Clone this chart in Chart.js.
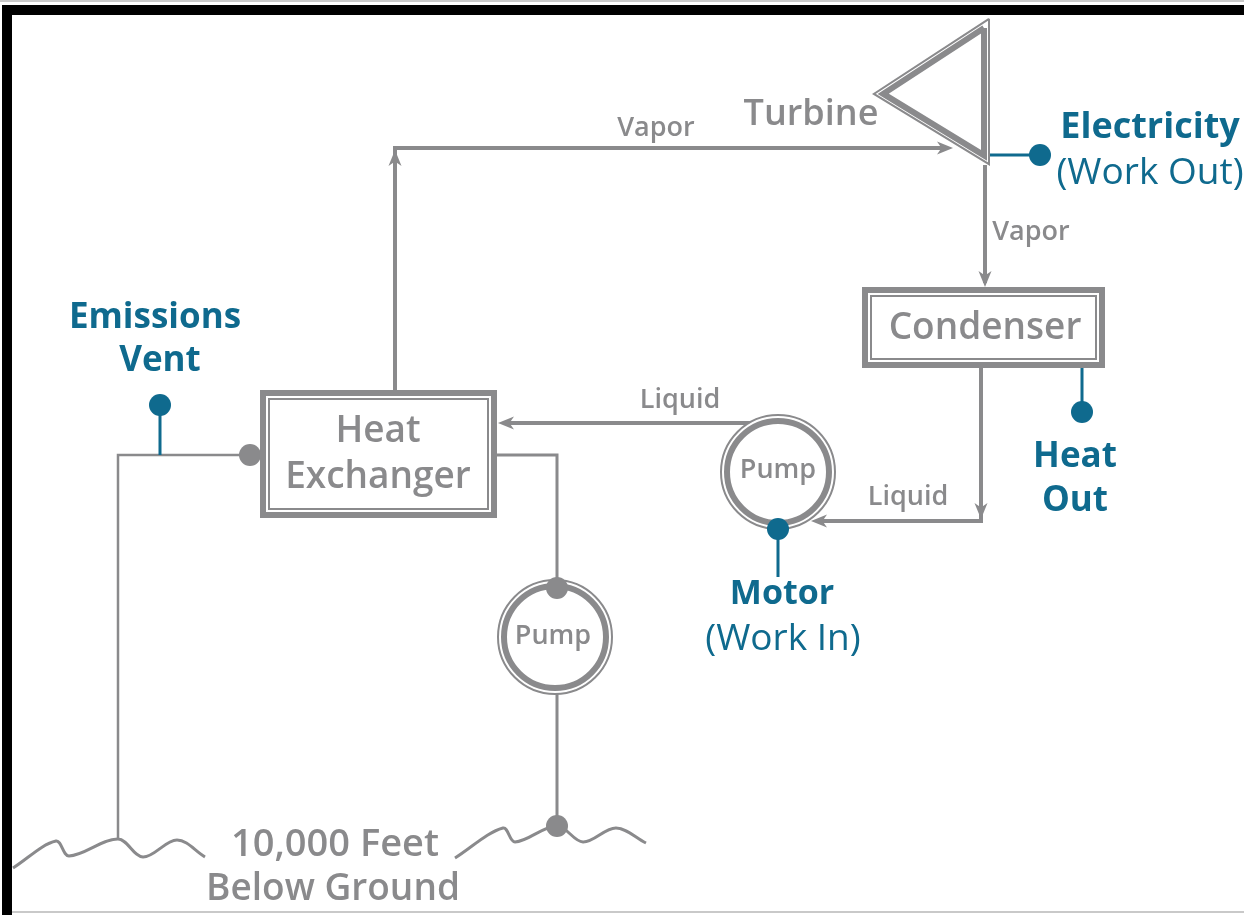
<!DOCTYPE html>
<html>
<head>
<meta charset="utf-8">
<script src="https://cdn.jsdelivr.net/npm/chart.js@4.4.1/dist/chart.umd.min.js"></script>
<style>
  html, body { margin: 0; padding: 0; background: #fff; }
  canvas { display: block; }
</style>
</head>
<body>
<canvas id="diagram" width="1244" height="915"></canvas>
<script>
const GRAY = "#8a8a8c";
const TEAL = "#0f6a8e";

// frame
const frameBlack = [[7, 915], [7, 10], [1244, 10]];
const frameTop = [[0, 1], [1244, 1]];
const frameBottom = [[12, 912], [1244, 912]];

// working fluid loop
const pipeVaporUp = [[395, 390], [395, 148], [948, 148]];
const pipeVaporDown = [[985, 165], [985, 283]];
const pipeLiquidDown = [[981, 368], [981, 521], [816, 521]];
const pipeLiquidBack = [[755, 423], [503, 423]];

// geothermal loop
const pipeGeoIn = [[497, 455], [557, 455], [557, 582]];
const pipeGeoDown = [[557, 692], [557, 826]];
const pipeGeoOut = [[118, 839], [118, 455], [255, 455]];

// ground
const groundLeft = [[13, 868], [56, 841], [69, 856], [118, 839], [143, 857], [177, 840], [205, 857]];
const groundRight = [[455, 858], [503, 828], [515, 842], [557, 826], [583, 842], [616, 828], [646, 843]];

// taps
const tapVent = [[160, 455], [160, 405]];
const tapElectric = [[990, 155], [1040, 155]];
const tapHeat = [[1082, 366], [1082, 412]];
const tapMotor = [[778, 530], [778, 577]];
const tealDots = [[160, 405], [1040, 155], [1082, 412], [778, 529]];
const grayDots = [[250, 455], [557, 588], [557, 826]];

// arrow tips: x, y, direction in degrees (0 = up)
const arrowTips = [[395, 150, 0], [953, 148, 90], [985, 287, 180], [981, 519, 180], [811, 521, 270], [498, 423, 270]];

// equipment
const boxHeatEx = [260, 390, 497, 518];
const boxCondenser = [862, 287, 1105, 368];
const turbine = [[990, 17], [990, 166], [872, 94]];
const pumps = [[778, 472], [555, 637]];

const labels = [
  ["Vapor", 656, 128, GRAY, "600 27px 'Open Sans'"],
  ["Turbine", 811, 115, GRAY, "600 36px 'Open Sans'"],
  ["Vapor", 1031, 232, GRAY, "600 27px 'Open Sans'"],
  ["Condenser", 985, 328, GRAY, "600 37px 'Open Sans'"],
  ["Heat", 378, 431, GRAY, "600 37px 'Open Sans'"],
  ["Exchanger", 378, 477, GRAY, "600 37px 'Open Sans'"],
  ["Liquid", 680, 400, GRAY, "600 27px 'Open Sans'"],
  ["Liquid", 908, 497, GRAY, "600 27px 'Open Sans'"],
  ["Pump", 778, 470, GRAY, "600 27px 'Open Sans'"],
  ["Pump", 553, 636, GRAY, "600 27px 'Open Sans'"],
  ["10,000 Feet", 335, 845, GRAY, "600 38px 'Open Sans'"],
  ["Below Ground", 333, 889, GRAY, "600 37px 'Open Sans'"],
  ["Emissions", 155, 318, TEAL, "700 35px 'Open Sans'"],
  ["Vent", 160, 361, TEAL, "700 35px 'Open Sans'"],
  ["Electricity", 1150, 128, TEAL, "700 36px 'Open Sans'"],
  ["(Work Out)", 1150, 173, TEAL, "400 37px 'Open Sans'"],
  ["Heat", 1075, 457, TEAL, "700 35px 'Open Sans'"],
  ["Out", 1075, 501, TEAL, "700 35px 'Open Sans'"],
  ["Motor", 782, 594, TEAL, "700 34px 'Open Sans'"],
  ["(Work In)", 783, 639, TEAL, "400 37px 'Open Sans'"]
];

const xy = pts => pts.map(([x, y]) => ({ x, y }));

function path(pts, color, width, extra) {
  return Object.assign({
    type: "line", data: xy(pts), borderColor: color, borderWidth: width,
    pointRadius: 0, fill: false, tension: 0
  }, extra || {});
}

function rectPts(b, i) {
  const [x0, y0, x1, y1] = b;
  return [[x0 + i, y0 + i], [x1 - i, y0 + i], [x1 - i, y1 - i], [x0 + i, y1 - i], [x0 + i, y0 + i]];
}

// shrink a triangle towards its incentre
function triPts(t, d) {
  const len = (p, q) => Math.hypot(p[0] - q[0], p[1] - q[1]);
  const a = len(t[1], t[2]), b = len(t[0], t[2]), c = len(t[0], t[1]);
  const s = a + b + c;
  const ix = (a * t[0][0] + b * t[1][0] + c * t[2][0]) / s;
  const iy = (a * t[0][1] + b * t[1][1] + c * t[2][1]) / s;
  const area = Math.abs((t[1][0] - t[0][0]) * (t[2][1] - t[0][1]) - (t[2][0] - t[0][0]) * (t[1][1] - t[0][1])) / 2;
  const r = 2 * area / s;
  const k = (r - d) / r;
  const p = t.map(([x, y]) => [ix + (x - ix) * k, iy + (y - iy) * k]);
  return p.concat([p[0]]);
}

function doubleBox(pts) {
  return [
    path(pts(3), GRAY, 6, { borderCapStyle: "square" }),
    path(pts(9), GRAY, 2, { borderCapStyle: "square" })
  ];
}

function dots(pts, color, r) {
  return { type: "scatter", data: xy(pts), pointRadius: r, pointBackgroundColor: color, pointBorderWidth: 0 };
}

// barbed arrowhead used as point style, pointing up
const head = document.createElement("canvas");
head.width = 18;
head.height = 18;
(function () {
  const c = head.getContext("2d");
  c.fillStyle = GRAY;
  c.beginPath();
  c.moveTo(9, 1);
  c.lineTo(15.5, 17);
  c.lineTo(9, 12.5);
  c.lineTo(2.5, 17);
  c.closePath();
  c.fill();
})();

const arrowSet = {
  type: "scatter",
  data: arrowTips.map(([x, y, a]) => {
    const rad = a * Math.PI / 180;
    return { x: x - Math.sin(rad) * 8, y: y + Math.cos(rad) * 8 };
  }),
  pointStyle: head,
  pointRadius: 9,
  pointRotation: arrowTips.map(a => a[2])
};

const ringOuter = { type: "scatter", data: xy(pumps), pointRadius: 57, pointBackgroundColor: "#fff", pointBorderColor: GRAY, pointBorderWidth: 2 };
const ringInner = { type: "scatter", data: xy(pumps), pointRadius: 51, pointBackgroundColor: "rgba(0,0,0,0)", pointBorderColor: GRAY, pointBorderWidth: 6 };

// bottom to top
const layers = [
  path(frameTop, "#c9c9c9", 2),
  path(frameBottom, "#c9c9c9", 2),
  path(frameBlack, "#000", 10),
  path(groundLeft, GRAY, 3, { tension: 0.35 }),
  path(groundRight, GRAY, 3, { tension: 0.35 }),
  path(pipeGeoOut, GRAY, 2.5),
  path(pipeGeoIn, GRAY, 3),
  path(pipeGeoDown, GRAY, 3),
  path(pipeVaporUp, GRAY, 4),
  path(pipeVaporDown, GRAY, 4),
  path(pipeLiquidDown, GRAY, 4),
  path(pipeLiquidBack, GRAY, 4),
  path(tapVent, TEAL, 3),
  path(tapElectric, TEAL, 3),
  path(tapHeat, TEAL, 3),
  path(tapMotor, TEAL, 3),
  ...doubleBox(i => rectPts(boxHeatEx, i)),
  ...doubleBox(i => rectPts(boxCondenser, i)),
  path(triPts(turbine, 1), GRAY, 2, { borderJoinStyle: "miter" }),
  path(triPts(turbine, 6), GRAY, 6, { borderJoinStyle: "miter" }),
  ringOuter,
  ringInner,
  arrowSet,
  dots(grayDots, GRAY, 11),
  dots(tealDots, TEAL, 11)
];
layers.forEach((d, i) => { d.order = layers.length - i; d.clip = false; });

const labelPlugin = {
  id: "labelPlugin",
  afterDatasetsDraw(chart) {
    const { ctx, scales } = chart;
    ctx.save();
    ctx.textAlign = "center";
    ctx.textBaseline = "middle";
    labels.forEach(([t, x, y, c, f]) => {
      ctx.fillStyle = c;
      ctx.font = f;
      ctx.fillText(t, scales.x.getPixelForValue(x), scales.y.getPixelForValue(y));
    });
    ctx.restore();
  }
};

new Chart(document.getElementById("diagram"), {
  type: "scatter",
  data: { datasets: layers },
  options: {
    responsive: false,
    animation: false,
    layout: { padding: 0, autoPadding: false },
    events: [],
    plugins: { legend: { display: false }, tooltip: { enabled: false } },
    scales: {
      x: { type: "linear", min: 0, max: 1244, display: false },
      y: { type: "linear", min: 0, max: 915, reverse: true, display: false }
    }
  },
  plugins: [labelPlugin]
});
</script>
</body>
</html>
